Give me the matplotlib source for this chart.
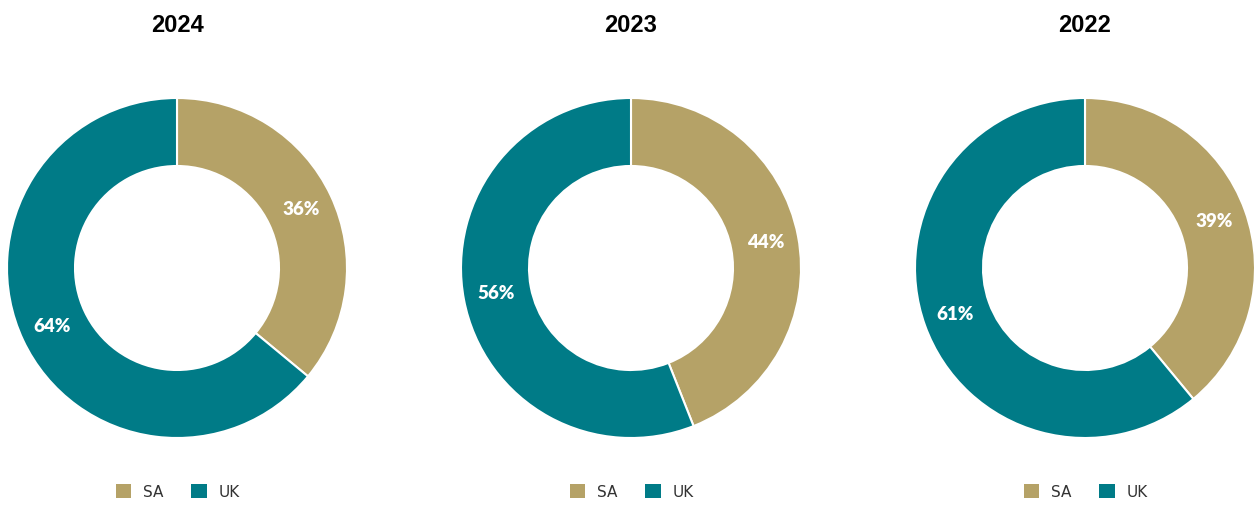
import matplotlib.pyplot as plt
from matplotlib.patches import Patch

years = ['2024', '2023', '2022']
sa_share = [36, 44, 39]
uk_share = [64, 56, 61]
labels = ['SA', 'UK']
colors = ['#B5A267', '#007B87']

W, H = 1255, 505
fig = plt.figure(figsize=(W / 100, H / 100), dpi=100)

centers_x = [177, 631, 1085]
cy = 268
r = 170

for i, year in enumerate(years):
    cx = centers_x[i]
    ax = fig.add_axes([(cx - r) / W, (H - cy - r) / H, 2 * r / W, 2 * r / H])
    ax.pie([sa_share[i], uk_share[i]], colors=colors, startangle=90, counterclock=False,
           radius=1, wedgeprops=dict(width=0.4, edgecolor='white', linewidth=1.5),
           autopct='%d%%', pctdistance=0.81,
           textprops=dict(color='white', fontweight='heavy', fontsize=13.5, family='Lato'))
    ax.set_xlim(-1, 1)
    ax.set_ylim(-1, 1)
    ax.set_aspect('equal')
    ax.axis('off')

    fig.text(cx / W, (H - 26) / H, year, ha='center', va='center',
             fontsize=17, fontweight='bold', family='Liberation Sans')

    handles = [Patch(facecolor=c, edgecolor='none') for c in colors]
    fig.legend(handles, labels, loc='center', bbox_to_anchor=((cx + 1) / W, (H - 492) / H),
               ncol=2, frameon=False, fontsize=11, handlelength=1.0, handleheight=1.0,
               handletextpad=0.8, columnspacing=1.8, labelcolor='#333333')

fig.savefig('out.png', dpi=100)
